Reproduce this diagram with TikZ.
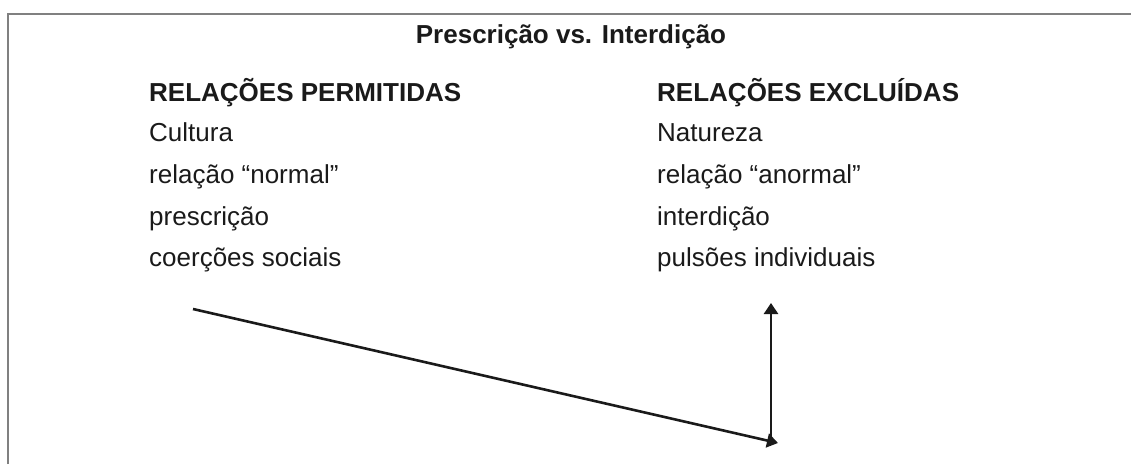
\documentclass[tikz,border=0pt]{standalone}
\usepackage{fontspec}
\setmainfont{Liberation Sans}
\usetikzlibrary{arrows.meta}
\definecolor{ink}{HTML}{1A1A1A}
\definecolor{framegray}{HTML}{808080}
\begin{document}
\begin{tikzpicture}[x=1pt,y=-1pt,
  txt/.style={anchor=base west,inner sep=0pt,text=ink,font=\fontsize{26}{31}\selectfont},
  hdr/.style={txt,font=\fontsize{26}{31}\selectfont\bfseries},
  ttl/.style={anchor=base,inner sep=0pt,text=ink,font=\fontsize{26}{31}\selectfont\bfseries},
  frameline/.style={draw=framegray,line width=1.6pt},
  conn/.style={draw=ink,line width=2.6pt,-{Triangle[length=11pt,width=14pt]}}]
\useasboundingbox (0,0) rectangle (1131,464);
\path[frameline] (8,464) -- (8,14) -- (1132,14);
\node[ttl] (title) at (571,43) {Prescrição vs. Interdição};
\node[hdr] (hl) at (149,101) {RELAÇÕES PERMITIDAS};
\node[txt] (l1) at (149,141) {Cultura};
\node[txt] (l2) at (149,183) {relação “normal”};
\node[txt] (l3) at (149,225) {prescrição};
\node[txt] (l4) at (149,266) {coerções sociais};
\node[hdr] (hr) at (657,101) {RELAÇÕES EXCLUÍDAS};
\node[txt] (r1) at (657,141) {Natureza};
\node[txt] (r2) at (657,183) {relação “anormal”};
\node[txt] (r3) at (657,225) {interdição};
\node[txt] (r4) at (657,266) {pulsões individuais};
\coordinate (start) at (193,309);
\coordinate (low) at (778,443);
\coordinate (base) at (771,437);
\coordinate (top) at (771,303);
\draw[conn,line cap=butt] (start) -- (low);
\draw[conn] (base) -- (top);
\end{tikzpicture}
\end{document}
